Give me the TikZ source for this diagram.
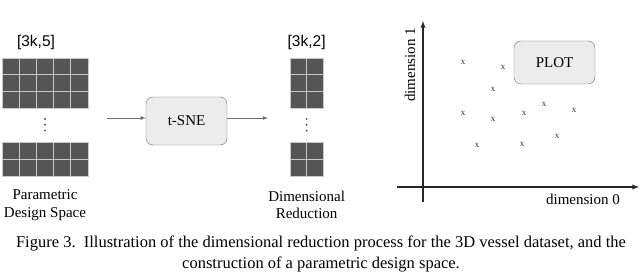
\documentclass[tikz,border=0pt]{standalone}
\usepackage{fontspec}
\setmainfont{Liberation Serif}
\newfontfamily\arialfont{Liberation Sans}
\usetikzlibrary{arrows,positioning,calc}
\definecolor{cellgray}{RGB}{85,85,85}
\definecolor{gapgray}{RGB}{200,200,200}
\definecolor{boxgray}{RGB}{236,236,236}
\definecolor{linegray}{RGB}{110,110,110}

\begin{document}
\begin{tikzpicture}[x=1pt, y=-1pt,
    block/.style={draw=linegray, fill=boxgray, rounded corners=7pt, minimum width=81pt, minimum height=48pt, font=\fontsize{15}{17}\selectfont},
    cell/.style={fill=cellgray, draw=gapgray, line width=0.9pt},
    dots/.style={fill=cellgray, circle, inner sep=0pt, minimum size=2.2pt},
    label/.style={align=center, font=\fontsize{15}{17.5}\selectfont},
    shape size/.style={font=\arialfont\fontsize{15.5}{17}\selectfont},
    xmark/.style={inner sep=0pt, font=\fontsize{9}{9}\selectfont, text=black!80},
    flow/.style={->, >=latex, linegray, thick},
    axis/.style={->, >=latex, line width=1.3pt, black!85}]
    \useasboundingbox (0,0) rectangle (640,278);

    % parametric design space
    \foreach \c in {0,...,4} {
        \foreach \r in {0,1,2}
            \draw[cell] ({2+17.2*\c},{58+16.8*\r}) rectangle ++(17.2,16.8);
        \foreach \r in {0,1}
            \draw[cell] ({2+17.2*\c},{142+17*\r}) rectangle ++(17.2,17);
    }
    \node[dots] (pd1) at (45,119) {};
    \node[dots, below=3.2pt of pd1] (pd2) {};
    \node[dots, below=3.2pt of pd2] (pd3) {};
    \node[shape size] (size5) at (36,42) {[3k,5]};
    \node[label] (param) at (45,205) {Parametric\\Design Space};

    % t-SNE
    \node[block] (tsne) at (186.5,121) {t-SNE};
    \coordinate (in) at (107,118);
    \coordinate (out) at (268,118);
    \draw[flow] (in) -- (tsne.west |- in);
    \draw[flow] (tsne.east |- out) -- (out);

    % dimensional reduction
    \foreach \c in {0,1} {
        \foreach \r in {0,1,2}
            \draw[cell] ({290+16.6*\c},{58+16.8*\r}) rectangle ++(16.6,16.8);
        \foreach \r in {0,1}
            \draw[cell] ({290+16.6*\c},{142+17*\r}) rectangle ++(16.6,17);
    }
    \node[dots] (rd1) at (306.6,119) {};
    \node[dots, below=3.2pt of rd1] (rd2) {};
    \node[dots, below=3.2pt of rd2] (rd3) {};
    \node[shape size] (size2) at (306.6,42) {[3k,2]};
    \node[label] (reduct) at (306.6,205) {Dimensional\\Reduction};

    % plot
    \coordinate (ybot) at (423,202);
    \coordinate (ytop) at (423,21);
    \coordinate (xleft) at (397,187);
    \coordinate (xright) at (639,187);
    \draw[axis] (ybot) -- (ytop);
    \draw[axis] (xleft) -- (xright);
    \node[label, rotate=90] (dim1) at (410,65) {dimension 1};
    \node[label] (dim0) at (583,199) {dimension 0};
    \node[block, minimum height=43pt] (plotbox) at (554.5,62.5) {PLOT};
    \foreach \p in {(463,62),(503,67),(493,89),(544,104),(574,110),(463,113),
                    (493,119),(524,113),(557,136),(477,145),(522,144)}
        \node[xmark] at \p {x};

    % caption
    \node[align=center, font=\fontsize{16.5}{21.5}\selectfont] (caption) at (321,254)
        {Figure 3.\ \ Illustration of the dimensional reduction process for the 3D vessel dataset, and the\\
         construction of a parametric design space.};
\end{tikzpicture}
\end{document}
